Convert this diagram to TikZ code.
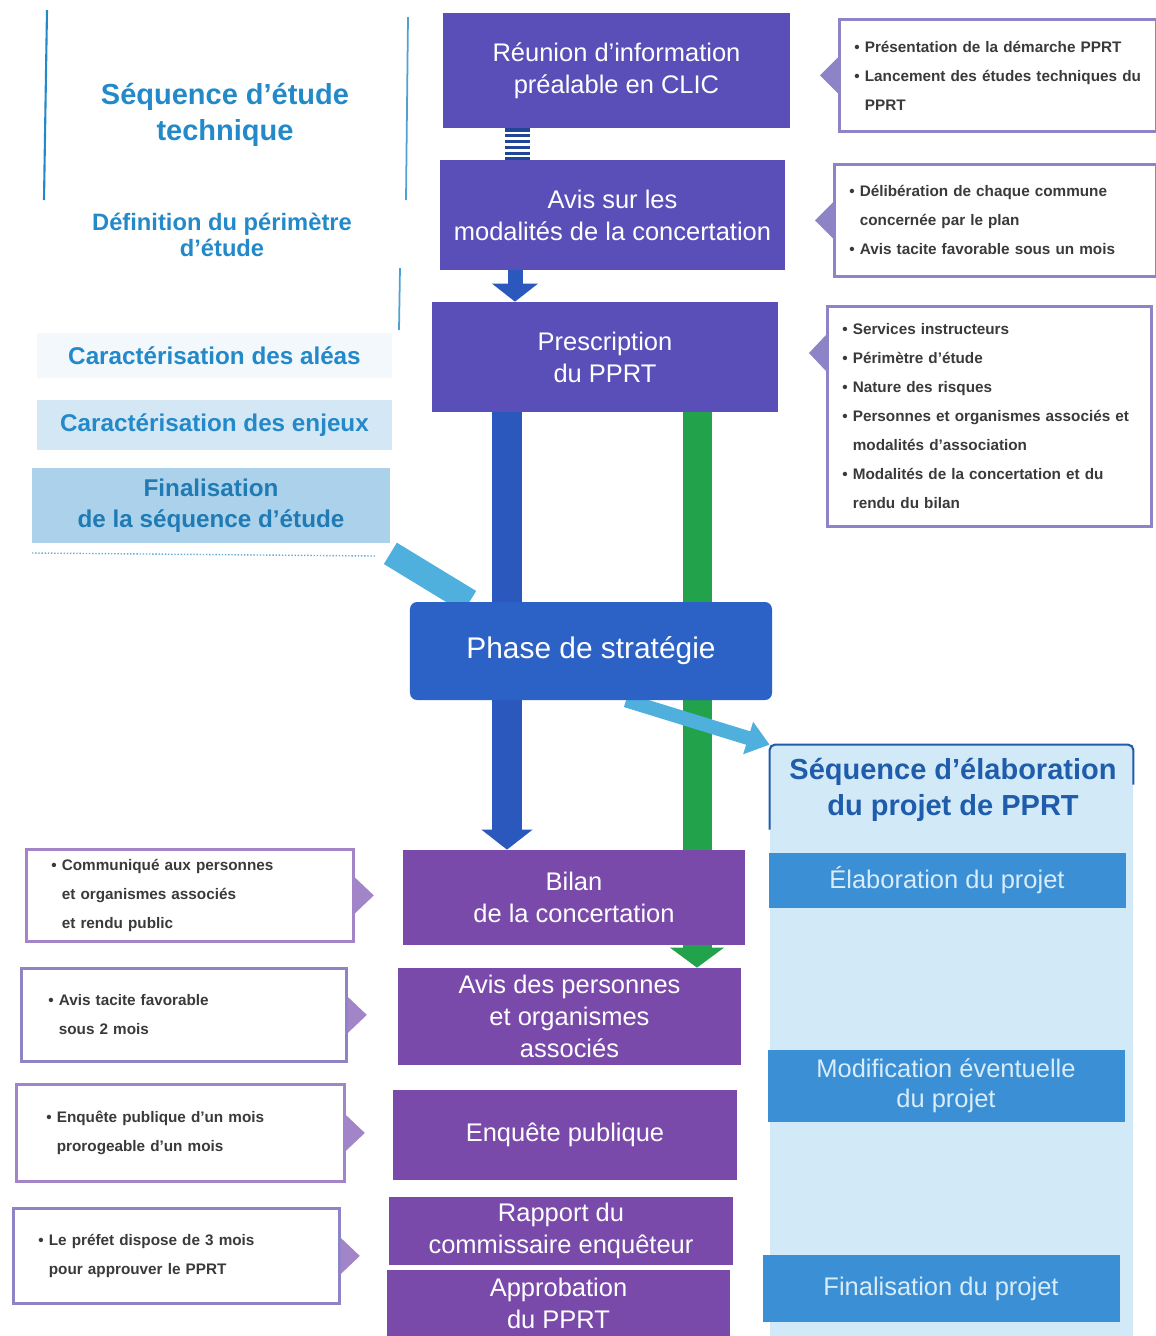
\documentclass[tikz,border=0pt]{standalone}
\usepackage{fontspec}
\setmainfont{Liberation Sans}
\usetikzlibrary{arrows.meta,fit,backgrounds}

\definecolor{etapebleu}{HTML}{5A4FB8}
\definecolor{etapeviolet}{HTML}{7A4AAA}
\definecolor{strategie}{HTML}{2C62C6}
\definecolor{barrebleu}{HTML}{2B58BD}
\definecolor{barrevert}{HTML}{22A24A}
\definecolor{ciel}{HTML}{4FB0DE}
\definecolor{titrebleu}{HTML}{2389C9}
\definecolor{titrefonce}{HTML}{1F5CAC}
\definecolor{cadre}{HTML}{8C84C6}
\definecolor{cadreviolet}{HTML}{A284C8}
\definecolor{texteg}{HTML}{3A3A3A}
\definecolor{fondclair}{HTML}{D2EAF7}
\definecolor{bandeau}{HTML}{3B8FD4}
\definecolor{bandtexte}{HTML}{D8ECFA}

\tikzset{
  etape/.style={inner sep=0pt, text=white, align=center, minimum width=68.6mm,
    font=\fontsize{14.5}{18.2}\selectfont},
  rappel/.style={draw=cadre, line width=1.6pt, fill=white, anchor=north west,
    align=left, text=texteg, inner ysep=0pt,
    font=\bfseries\fontsize{8.7}{16.5}\selectfont},
  bandeau/.style={fill=bandeau, inner sep=0pt, text=bandtexte, align=center,
    minimum width=71.4mm, font=\fontsize{14.5}{17}\selectfont},
  bande/.style={inner sep=0pt, align=center, text=titrebleu, minimum width=71mm,
    font=\bfseries\fontsize{13.8}{17.6}\selectfont},
  titre/.style={align=center, text=titrebleu,
    font=\bfseries\fontsize{16.5}{20.5}\selectfont},
}

\begin{document}
\begin{tikzpicture}[x=0.2mm, y=-0.2mm]
  \useasboundingbox (0,0) rectangle (1156,1336);

  % sequence d'etude technique
  \draw[titrebleu, line width=1.2pt] (47,10) -- (44,200);
  \draw[titrebleu!80, line width=1pt] (408,17) -- (406,200);
  \draw[titrebleu!80, line width=1pt] (400,268) -- (399,330);
  \draw[titrebleu!70, line width=0.8pt, densely dotted] (32,553) -- (375,556);
  \node[titre] (seqetude) at (225,115) {Séquence d’étude\\technique};
  \node[titre, font=\bfseries\fontsize{13.5}{14.8}\selectfont] (perimetre) at (222,235)
    {Définition du périmètre\\d’étude};
  \node[bande, fill=titrebleu!6, minimum height=9mm] (aleas) at (214.5,355.5)
    {Caractérisation des aléas};
  \node[bande, fill=titrebleu!20, minimum height=10mm] (enjeux) at (214.5,425)
    {Caractérisation des enjeux};
  \node[bande, fill=titrebleu!38, text=titrebleu!90!black, minimum width=71.6mm,
    minimum height=15mm] (finetude) at (211,505.5) {Finalisation\\de la séquence d’étude};

  % etapes
  \node[etape, fill=etapebleu, minimum width=69.4mm, minimum height=23mm] (reunion)
    at (616.5,70.5) {Réunion d’information\\préalable en CLIC};
  \node[etape, fill=etapebleu, minimum width=69mm, minimum height=22mm] (avisconc)
    at (612.5,215) {Avis sur les\\modalités de la concertation};
  \node[etape, fill=etapebleu, minimum width=69.2mm, minimum height=22mm] (prescription)
    at (605,357) {Prescription\\du PPRT};
  \node[etape, fill=strategie, rounded corners=4pt, minimum width=72.4mm, minimum height=19.6mm,
    font=\fontsize{17}{20}\selectfont] (strategie) at (591,651) {Phase de stratégie};
  \node[etape, fill=etapeviolet, minimum width=68.4mm, minimum height=19mm] (bilan)
    at (574,897.5) {Bilan\\de la concertation};
  \node[etape, fill=etapeviolet, minimum height=19.4mm] (avispers)
    at (569.5,1016.5) {Avis des personnes\\et organismes\\associés};
  \node[etape, fill=etapeviolet, minimum width=68.8mm, minimum height=18mm] (enquete)
    at (565,1135) {Enquête publique};
  \node[etape, fill=etapeviolet, minimum width=68.8mm, minimum height=13.6mm] (rapport)
    at (561,1231) {Rapport du\\commissaire enquêteur};
  \node[etape, fill=etapeviolet, minimum height=13.2mm] (approbation)
    at (558.5,1303) {Approbation\\du PPRT};

  % sequence d'elaboration
  \node[fill=fondclair, inner sep=0pt, fit={(770,745) (1133,1336)}] (panneau) {};
  \draw[titrefonce, line width=1.2pt, rounded corners=3pt]
    ([yshift=-17mm]panneau.north west) |- (panneau.north east) -- ++(0,-8mm);
  \node[titre, text=titrefonce] (seqprojet) at (953,790) {Séquence d’élaboration\\du projet de PPRT};
  \node[bandeau, minimum height=11mm] (elaboration) at (947,880.5) {Élaboration du projet};
  \node[bandeau, minimum height=14.4mm] (modification) at (946,1086) {Modification éventuelle\\du projet};
  \node[bandeau, minimum height=13.4mm] (finprojet) at (941,1288.5) {Finalisation du projet};

  % rappels a droite
  \node[rappel, text width=57.4mm, inner xsep=3mm, minimum height=22.4mm] (r1) at (838,18)
    {• Présentation de la démarche PPRT\\• Lancement des études techniques du\\\hphantom{• }PPRT};
  \node[rappel, text width=58.4mm, inner xsep=3mm, minimum height=22.4mm] (r2) at (833,163)
    {• Délibération de chaque commune\\\hphantom{• }concernée par le plan\\• Avis tacite favorable sous un mois};
  \node[rappel, text width=58.8mm, inner xsep=3mm, minimum height=44mm] (r3) at (826,305)
    {• Services instructeurs\\• Périmètre d’étude\\• Nature des risques\\• Personnes et organismes associés et\\\hphantom{• }modalités d’association\\• Modalités de la concertation et du\\\hphantom{• }rendu du bilan};
  \fill[cadre] ([yshift=3.6mm]r1.west) -- ++(-3.6mm,-3.6mm) -- ++(3.6mm,-3.6mm) -- cycle;
  \fill[cadre] ([yshift=3.6mm]r2.west) -- ++(-3.6mm,-3.6mm) -- ++(3.6mm,-3.6mm) -- cycle;
  \fill[cadre] ([yshift=-6mm]r3.north west) -- ++(-3.4mm,-3.6mm) -- ++(3.4mm,-3.6mm) -- cycle;

  % rappels a gauche
  \node[rappel, draw=cadreviolet, text width=55.4mm, inner xsep=5mm, minimum height=18.4mm] (l1) at (25,848)
    {• Communiqué aux personnes\\\hphantom{• }et organismes associés\\\hphantom{• }et rendu public};
  \node[rappel, text width=54.2mm, inner xsep=5.4mm, minimum height=18.6mm] (l2) at (20,967)
    {• Avis tacite favorable\\\hphantom{• }sous 2 mois};
  \node[rappel, draw=cadreviolet, text width=53.6mm, inner xsep=6mm, minimum height=19.4mm] (l3) at (15,1083)
    {• Enquête publique d’un mois\\\hphantom{• }prorogeable d’un mois};
  \node[rappel, text width=55.2mm, inner xsep=5mm, minimum height=19mm] (l4) at (12,1207)
    {• Le préfet dispose de 3 mois\\\hphantom{• }pour approuver le PPRT};
  \fill[cadreviolet] ([yshift=3.6mm]l1.east) -- ++(3.8mm,-3.6mm) -- ++(-3.8mm,-3.6mm) -- cycle;
  \fill[cadreviolet] ([yshift=3.6mm]l2.east) -- ++(3.8mm,-3.6mm) -- ++(-3.8mm,-3.6mm) -- cycle;
  \fill[cadreviolet] ([yshift=3.6mm]l3.east) -- ++(3.8mm,-3.6mm) -- ++(-3.8mm,-3.6mm) -- cycle;
  \fill[cadreviolet] ([yshift=3.6mm]l4.east) -- ++(3.8mm,-3.6mm) -- ++(-3.8mm,-3.6mm) -- cycle;

  % liaisons
  \coordinate (axerayure) at (517,0);
  \coordinate (axefleche) at (515,0);
  \coordinate (axebleu) at (507,0);
  \coordinate (axevert) at (697,0);
  \draw[barrebleu!80!black, line width=5mm, dash pattern=on 1.8pt off 1.5pt]
    (reunion.south -| axerayure) -- (avisconc.north -| axerayure);
  \draw[barrebleu, line width=3mm, -{Triangle[width=9mm,length=3.6mm]}]
    (avisconc.south -| axefleche) -- (prescription.north -| axefleche);
  \begin{scope}[on background layer]
    \draw[barrevert, line width=5.8mm, -{Triangle[width=10.6mm,length=4mm]}]
      (prescription.south -| axevert) -- (avispers.north -| axevert);
    \draw[barrebleu, line width=6mm] (prescription.south -| axebleu) -- (strategie.north -| axebleu);
    \draw[barrebleu, line width=6mm, -{Triangle[width=10mm,length=4mm]}]
      (strategie.south -| axebleu) -- (bilan.north -| axebleu);
    \draw[ciel, line width=5mm] ([yshift=-2mm]finetude.south east) -- ([xshift=12mm]strategie.north west);
    \draw[ciel, line width=2.8mm, -{Triangle[width=6.5mm,length=4.5mm]}]
      ([xshift=7mm]strategie.south) -- (panneau.north west);
  \end{scope}
\end{tikzpicture}
\end{document}
